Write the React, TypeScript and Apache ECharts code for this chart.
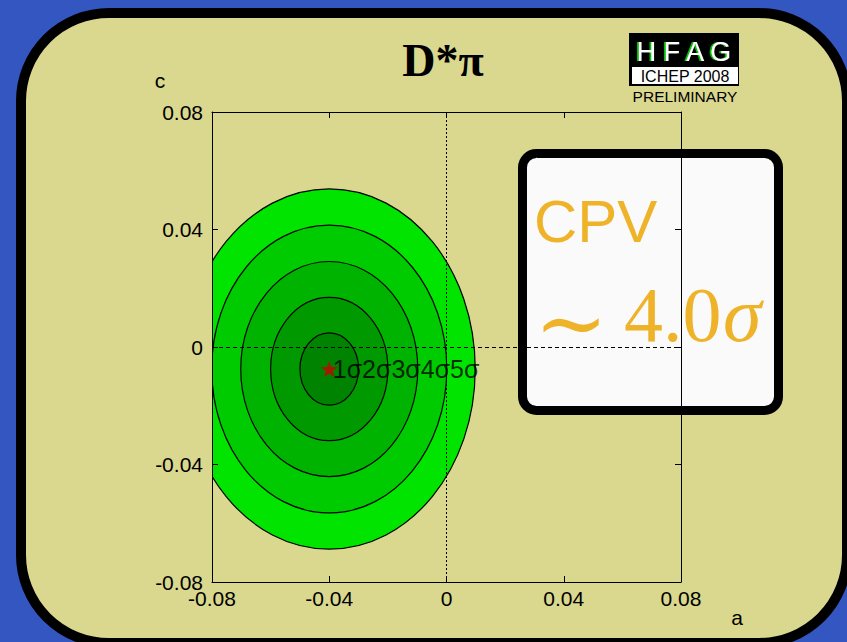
import React, { useEffect, useRef } from "react";
import * as echarts from "echarts";

// Fit centre and n-sigma contour semi-axes (a, c)
const centerA = -0.04;
const centerC = -0.0075;
const sigmaLevels = ["5σ", "4σ", "3σ", "2σ", "1σ"];
const semiAxisA = [0.0498, 0.0401, 0.0302, 0.02, 0.01];
const semiAxisC = [0.0613, 0.049, 0.0366, 0.0244, 0.0123];
const levelColors = ["#00E400", "#00CB00", "#00B300", "#009A00", "#008300"];

const axisMin = -0.08;
const axisMax = 0.08;
const axisStep = 0.04;
const contourLabel = "1σ2σ3σ4σ5σ";
const title = "D*π";
const cpvSignificance = "4.0";

const STAR =
  "path://M0,-10L2.35,-3.24L9.51,-3.09L3.8,1.24L5.88,8.09L0,4L-5.88,8.09L-3.8,1.24L-9.51,-3.09L-2.35,-3.24Z";

const fmt = (v: number) => (Math.abs(v) < 1e-9 ? "0" : v.toFixed(2));

export default function App() {
  const ref = useRef<HTMLDivElement>(null);

  useEffect(() => {
    document.body.style.margin = "0";
    const chart = echarts.init(ref.current!, undefined, { renderer: "svg" });

    const ellipses = sigmaLevels.map((_, i) => [
      centerA,
      centerC,
      semiAxisA[i],
      semiAxisC[i],
    ]);

    const axisCommon = {
      type: "value" as const,
      min: axisMin,
      max: axisMax,
      interval: axisStep,
      z: 5,
      splitLine: { show: false },
      axisLine: { show: true, onZero: false, lineStyle: { color: "#000", width: 1 } },
      axisTick: { show: true, inside: true, length: 6, lineStyle: { color: "#000" } },
    };

    const sans = "'Liberation Sans', Arial, sans-serif";
    const serif = "'Liberation Serif', 'Times New Roman', serif";
    const orange = "#EFB32A";

    chart.setOption({
      animation: false,
      backgroundColor: "#3356C0",
      grid: { left: 212, top: 112, right: 166, bottom: 60, containLabel: false },
      xAxis: [
        {
          ...axisCommon,
          position: "bottom",
          axisLabel: {
            color: "#000",
            fontSize: 21,
            fontFamily: sans,
            margin: 6,
            formatter: fmt,
          },
        },
        { ...axisCommon, position: "top", axisLabel: { show: false } },
      ],
      yAxis: [
        {
          ...axisCommon,
          position: "left",
          axisLabel: {
            color: "#000",
            fontSize: 21,
            fontFamily: sans,
            margin: 9,
            formatter: fmt,
          },
        },
        { ...axisCommon, position: "right", axisLabel: { show: false } },
      ],
      graphic: [
        {
          type: "rect",
          z: -1,
          shape: { x: 21, y: 13, width: 826, height: 630, r: 88 },
          style: { fill: "#D9D88E", stroke: "#000", lineWidth: 10 },
        },
        {
          type: "text",
          z: 1,
          x: 443,
          y: 60,
          style: {
            text: title,
            font: `bold 46px ${serif}`,
            fill: "#000",
            align: "center",
            verticalAlign: "middle",
          },
        },
        // HFAG badge
        {
          type: "rect",
          z: 1,
          shape: { x: 629, y: 33, width: 110, height: 53 },
          style: { fill: "#000" },
        },
        {
          type: "rect",
          z: 1,
          shape: { x: 632, y: 67, width: 106, height: 17 },
          style: { fill: "#fff" },
        },
        {
          type: "text",
          z: 1,
          x: 684,
          y: 52,
          style: {
            text: "H F A G",
            font: `27px ${sans}`,
            fill: "#fff",
            align: "center",
            verticalAlign: "middle",
            textShadowColor: "#00C000",
            textShadowOffsetX: -2,
            textShadowOffsetY: 0,
            textShadowBlur: 0.5,
          },
        },
        {
          type: "text",
          z: 1,
          x: 685,
          y: 76,
          style: { text: "ICHEP 2008", font: `16px ${sans}`, fill: "#000", align: "center", verticalAlign: "middle" },
        },
        {
          type: "text",
          z: 1,
          x: 685,
          y: 96,
          style: { text: "PRELIMINARY", font: `15.5px ${sans}`, fill: "#000", align: "center", verticalAlign: "middle" },
        },
        // axis titles
        {
          type: "text",
          z: 1,
          x: 160,
          y: 80,
          style: { text: "c", font: `21px ${sans}`, fill: "#000", align: "center", verticalAlign: "middle" },
        },
        {
          type: "text",
          z: 1,
          x: 737,
          y: 617,
          style: { text: "a", font: `21px ${sans}`, fill: "#000", align: "center", verticalAlign: "middle" },
        },
        // CPV significance box
        {
          type: "rect",
          z: 1,
          shape: { x: 522.5, y: 153.5, width: 256, height: 257, r: 14 },
          style: { fill: "#FAFAFA", stroke: "#000", lineWidth: 9 },
        },
        {
          type: "text",
          z: 1,
          x: 534,
          y: 221,
          style: { text: "CPV", font: `60px ${sans}`, fill: orange, align: "left", verticalAlign: "middle" },
        },
        {
          type: "text",
          z: 1,
          x: 571,
          y: 322,
          style: { text: "∼", font: `88px 'DejaVu Serif', serif`, fill: orange, align: "center", verticalAlign: "middle" },
        },
        {
          type: "text",
          z: 1,
          x: 624,
          y: 314,
          style: { text: cpvSignificance, font: `78px ${serif}`, fill: orange, align: "left", verticalAlign: "middle" },
        },
        {
          type: "text",
          z: 1,
          x: 723,
          y: 314,
          style: { text: "σ", font: `italic 78px ${serif}`, fill: orange, align: "left", verticalAlign: "middle" },
        },
      ],
      series: [
        {
          type: "custom",
          z: 2,
          xAxisIndex: 0,
          yAxisIndex: 0,
          data: ellipses,
          renderItem: (params: any, api: any) => {
            const c = api.coord([api.value(0), api.value(1)]);
            const s = api.size([api.value(2), api.value(3)]);
            const cs = params.coordSys;
            return {
              type: "ellipse",
              shape: { cx: c[0], cy: c[1], rx: s[0], ry: s[1] },
              style: { fill: levelColors[params.dataIndex], stroke: "#000", lineWidth: 1.2 },
              clipPath: {
                type: "rect",
                shape: { x: cs.x, y: cs.y, width: cs.width, height: cs.height },
              },
            };
          },
        },
        {
          type: "scatter",
          z: 3,
          xAxisIndex: 0,
          yAxisIndex: 0,
          symbol: STAR,
          symbolSize: [17, 16],
          itemStyle: { color: "#CC0000" },
          data: [[centerA, centerC]],
          label: {
            show: true,
            position: "right",
            distance: -5,
            formatter: contourLabel,
            color: "#000",
            fontSize: 25,
            fontFamily: sans,
          },
          markLine: {
            silent: true,
            symbol: "none",
            label: { show: false },
            data: [
              { yAxis: 0, lineStyle: { color: "#000", width: 1, type: [4, 3] } },
              { xAxis: 0, lineStyle: { color: "#000", width: 1, type: [2, 2] } },
            ],
          },
        },
      ],
    });

    return () => chart.dispose();
  }, []);

  return <div ref={ref} style={{ width: 847, height: 642 }} />;
}
